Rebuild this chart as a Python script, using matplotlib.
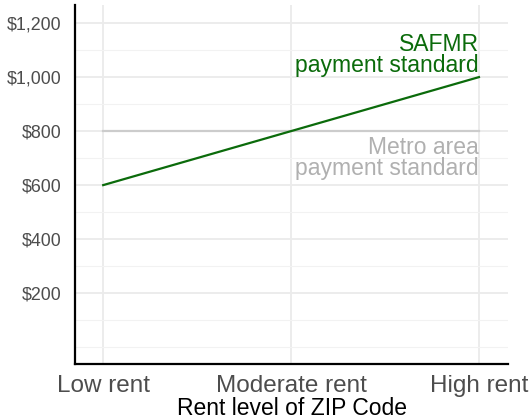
import matplotlib
matplotlib.use('Agg')
import matplotlib.pyplot as plt
import numpy as np

plt.rcParams['font.family'] = ['Liberation Sans', 'DejaVu Sans']

levels = ['Low rent', 'Moderate rent', 'High rent']
safmr = [600, 800, 1000]
metro = [800, 800, 800]
yticks = [200, 400, 600, 800, 1000, 1200]
yminor = [0, 100, 300, 500, 700, 900, 1100]

fig = plt.figure(figsize=(5.32, 4.19), dpi=100)
ax = fig.add_axes([0.141, 0.131, 0.814, 0.857])
x = np.arange(1, len(levels) + 1)

ax.plot(x, metro, color='#cccccc', lw=1.6, zorder=2)
ax.plot(x, safmr, color='#0b6b0b', lw=1.6, zorder=3)

ax.text(x[-1], 1000, 'SAFMR\npayment standard', color='#0b6b0b', fontsize=16.5,
        ha='right', va='bottom', linespacing=0.9, multialignment='right')
ax.text(x[-1], 782, 'Metro area\npayment standard', color='#b0b0b0', fontsize=16.5,
        ha='right', va='top', linespacing=0.9, multialignment='right')

ax.set_xlim(0.85, 3.155)
ax.set_ylim(-63, 1267)
ax.set_xticks(x)
ax.set_xticklabels(levels, fontsize=17.5, color='#4d4d4d')
ax.set_yticks(yticks)
ax.set_yticklabels([f'${v:,}' for v in yticks], fontsize=12.9, color='#4d4d4d')
ax.set_yticks(yminor, minor=True)
ax.tick_params(axis='both', which='both', length=0)
ax.tick_params(axis='y', pad=10)
ax.tick_params(axis='x', pad=8)
ax.grid(True, which='major', color='#ebebeb', lw=1.3, zorder=0)
ax.grid(True, which='minor', axis='y', color='#f2f2f2', lw=0.8, zorder=0)
ax.set_axisbelow(True)
for s in ['top', 'right']:
    ax.spines[s].set_visible(False)
for s in ['left', 'bottom']:
    ax.spines[s].set_linewidth(1.6)
    ax.spines[s].set_color('black')
ax.set_xlabel('Rent level of ZIP Code', fontsize=16.5, color='black', labelpad=0)

fig.savefig('out.png', dpi=100)
